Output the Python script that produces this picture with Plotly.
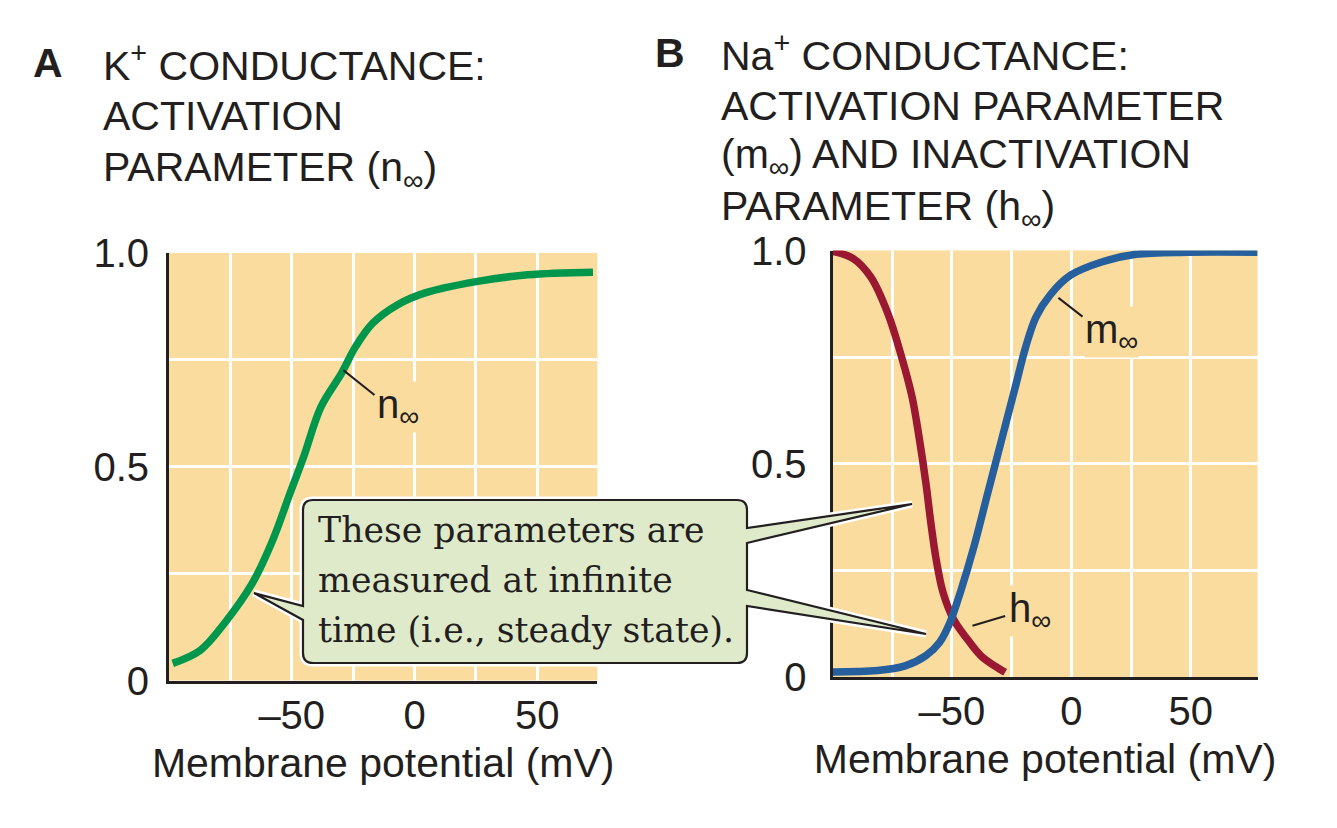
import plotly.graph_objects as go

# ---------------- data ----------------
n_v = [-98.5, -87.2, -77.4, -66.1, -57.7, -50.7, -45.1, -38.1, -29.7, -24.0,
       -17.0, -7.2, 4.0, 25.1, 46.1, 72.7]
n_inf = [0.040, 0.071, 0.134, 0.227, 0.329, 0.438, 0.524, 0.640, 0.719, 0.781,
         0.836, 0.878, 0.906, 0.933, 0.949, 0.955]

h_v = [-99.9, -91.3, -84.0, -76.8, -71.1, -66.7, -63.8, -60.9, -58.8, -56.6, -53.7,
       -49.4, -43.6, -37.9, -32.1, -27.7]
h_inf = [0.998, 0.981, 0.938, 0.852, 0.751, 0.657, 0.564, 0.455, 0.361, 0.276, 0.198,
         0.136, 0.089, 0.050, 0.026, 0.011]

m_v = [-99.9, -81.2, -69.6, -60.9, -55.2, -50.8, -46.5, -40.7, -35.0, -29.2, -23.4,
       -19.1, -14.8, -9.0, -0.3, 12.7, 27.1, 48.8, 78.0]
m_inf = [0.012, 0.015, 0.026, 0.050, 0.081, 0.128, 0.198, 0.307, 0.431, 0.556, 0.681,
         0.774, 0.844, 0.895, 0.942, 0.973, 0.991, 0.996, 0.996]

x_tickvals = [-50, 0, 50]
x_ticktext = ["\u201350", "0", "50"]
y_tickvals = [0, 0.5, 1.0]
y_ticktext = ["0", "0.5", "1.0"]

title_a = ["K<sup>+</sup> CONDUCTANCE:", "ACTIVATION", "PARAMETER (n<sub>\u221e</sub>)"]
title_b = ["Na<sup>+</sup> CONDUCTANCE:", "ACTIVATION PARAMETER",
           "(m<sub>\u221e</sub>) AND INACTIVATION", "PARAMETER (h<sub>\u221e</sub>)"]
callout_lines = ["These parameters are", "measured at infinite", "time (i.e., steady state)."]
x_title = "Membrane potential (mV)"

# ---------------- style ----------------
W, H = 1337, 828
SANS = "Liberation Sans, Arial, Helvetica, sans-serif"
SERIF = "DejaVu Serif, serif"
INK = "#231F20"
BG = "#FADC9F"
GREEN = "#00974D"
RED = "#9A1832"
BLUE = "#255F9E"
CALLOUT = "#DFEACB"
FS = 40
FT = 41
title_a_y = [63, 116, 170]
title_b_y = [53, 105.5, 157, 208.5]


def px(x, y):
    return f"{x / W:.5f},{1 - y / H:.5f}"


fig = go.Figure()
fig.add_trace(go.Scatter(x=n_v, y=n_inf, mode="lines", line=dict(color=GREEN, width=7.5, shape="spline"),
                         xaxis="x", yaxis="y", hoverinfo="skip"))
fig.add_trace(go.Scatter(x=h_v, y=h_inf, mode="lines", line=dict(color=RED, width=7.5, shape="spline"),
                         xaxis="x2", yaxis="y2", hoverinfo="skip"))
fig.add_trace(go.Scatter(x=m_v, y=m_inf, mode="lines", line=dict(color=BLUE, width=7.5, shape="spline"),
                         xaxis="x2", yaxis="y2", hoverinfo="skip"))


def xax(domain, rng, minor_vals, anchor):
    return dict(domain=domain, range=rng, anchor=anchor, showline=True, linecolor=INK, linewidth=3,
                tickvals=x_tickvals, ticktext=x_ticktext, ticks="", ticklabelstandoff=-3,
                tickfont=dict(family=SANS, size=FS, color=INK),
                showgrid=True, gridcolor="white", gridwidth=2.5, zeroline=False,
                minor=dict(tickvals=minor_vals, showgrid=True, gridcolor="white", gridwidth=2.5),
                title=dict(text=x_title, font=dict(family=SANS, size=FT, color=INK), standoff=13),
                fixedrange=True)


def yax(domain, anchor, standoff):
    return dict(domain=domain, range=[0, 1], anchor=anchor, showline=True, linecolor=INK, linewidth=3,
                tickvals=y_tickvals, ticktext=y_ticktext, ticks="", ticklabelstandoff=standoff,
                tickfont=dict(family=SANS, size=FS, color=INK),
                showgrid=True, gridcolor="white", gridwidth=2.5, zeroline=False,
                minor=dict(tickvals=[0.25, 0.75], showgrid=True, gridcolor="white", gridwidth=2.5),
                fixedrange=True)


fig.update_layout(
    width=W, height=H,
    margin=dict(l=0, r=0, t=0, b=0, autoexpand=False),
    paper_bgcolor="white", plot_bgcolor=BG, showlegend=False,
    xaxis=xax([169 / W, 597.4 / W], [-100, 74.5], [-75, -25, 25, 75], "y"),
    yaxis=yax([1 - 680.5 / H, 1 - 253 / H], "x", 9),
    xaxis2=xax([832.5 / W, 1257.6 / W], [-100, 78], [-75, -25, 25], "y2"),
    yaxis2=yax([1 - 677 / H, 1 - 250.5 / H], "x2", 15),
)

# ---------------- callout (rounded box with three pointers) ----------------
L, T, R, B, r = 303, 500, 747, 663, 10
path = ("M " + px(L + r, T) + " L " + px(R - r, T) + " Q " + px(R, T) + " " + px(R, T + r)
        + " L " + px(R, 528) + " L " + px(912, 504) + " L " + px(R, 543)
        + " L " + px(R, 590) + " L " + px(926, 634) + " L " + px(R, 606)
        + " L " + px(R, B - r) + " Q " + px(R, B) + " " + px(R - r, B)
        + " L " + px(L + r, B) + " Q " + px(L, B) + " " + px(L, B - r)
        + " L " + px(L, 620) + " L " + px(254, 593) + " L " + px(L, 606)
        + " L " + px(L, T + r) + " Q " + px(L, T) + " " + px(L + r, T) + " Z")
fig.add_shape(type="path", path=path, xref="paper", yref="paper",
              line=dict(color="white", width=7), fillcolor=CALLOUT, layer="above")
fig.add_shape(type="path", path=path, xref="paper", yref="paper",
              line=dict(color=INK, width=2.2), fillcolor=CALLOUT, layer="above")

for i, line in enumerate(callout_lines):
    fig.add_annotation(text=line, xref="paper", yref="paper", x=316 / W, y=1 - (530 + 50 * i) / H,
                       xanchor="left", yanchor="middle", showarrow=False,
                       font=dict(family=SERIF, size=34.7, color=INK))

# ---------------- curve labels with leader lines ----------------
fig.add_shape(type="line", xref="x", yref="y", x0=-29.0, y0=0.726, x1=-16.3, y1=0.668,
              line=dict(color=INK, width=2))
fig.add_annotation(text="n<sub>\u221e</sub>", xref="x", yref="y", x=-15.5, y=0.64,
                   xanchor="left", yanchor="middle", showarrow=False, bgcolor=BG, borderpad=0,
                   font=dict(family=SANS, size=FS, color=INK))
fig.add_shape(type="line", xref="x2", yref="y2", x0=-5.4, y0=0.889, x1=4.7, y1=0.845,
              line=dict(color=INK, width=2))
fig.add_annotation(text="m<sub>\u221e</sub>", xref="x2", yref="y2", x=5.5, y=0.81,
                   xanchor="left", yanchor="middle", showarrow=False, bgcolor=BG, borderpad=0,
                   font=dict(family=SANS, size=FS, color=INK))
fig.add_shape(type="line", xref="x2", yref="y2", x0=-41.4, y0=0.12, x1=-27.7, y1=0.143,
              line=dict(color=INK, width=2))
fig.add_annotation(text="h<sub>\u221e</sub>", xref="x2", yref="y2", x=-26.5, y=0.155,
                   xanchor="left", yanchor="middle", showarrow=False, bgcolor=BG, borderpad=0,
                   font=dict(family=SANS, size=FS, color=INK))

# ---------------- panel titles ----------------
fig.add_annotation(text="<b>A</b>", xref="paper", yref="paper", x=31 / W, y=1 - title_a_y[0] / H,
                   xanchor="left", yanchor="middle", showarrow=False,
                   font=dict(family=SANS, size=FT, color=INK))
for line, yy in zip(title_a, title_a_y):
    fig.add_annotation(text=line, xref="paper", yref="paper", x=101 / W, y=1 - yy / H,
                       xanchor="left", yanchor="middle", showarrow=False,
                       font=dict(family=SANS, size=FT, color=INK))
fig.add_annotation(text="<b>B</b>", xref="paper", yref="paper", x=653 / W, y=1 - title_b_y[0] / H,
                   xanchor="left", yanchor="middle", showarrow=False,
                   font=dict(family=SANS, size=FT, color=INK))
for line, yy in zip(title_b, title_b_y):
    fig.add_annotation(text=line, xref="paper", yref="paper", x=719 / W, y=1 - yy / H,
                       xanchor="left", yanchor="middle", showarrow=False,
                       font=dict(family=SANS, size=FT, color=INK))

fig.write_html("out.html", config={"displayModeBar": False},
               post_script="document.body.style.margin='0px';")
